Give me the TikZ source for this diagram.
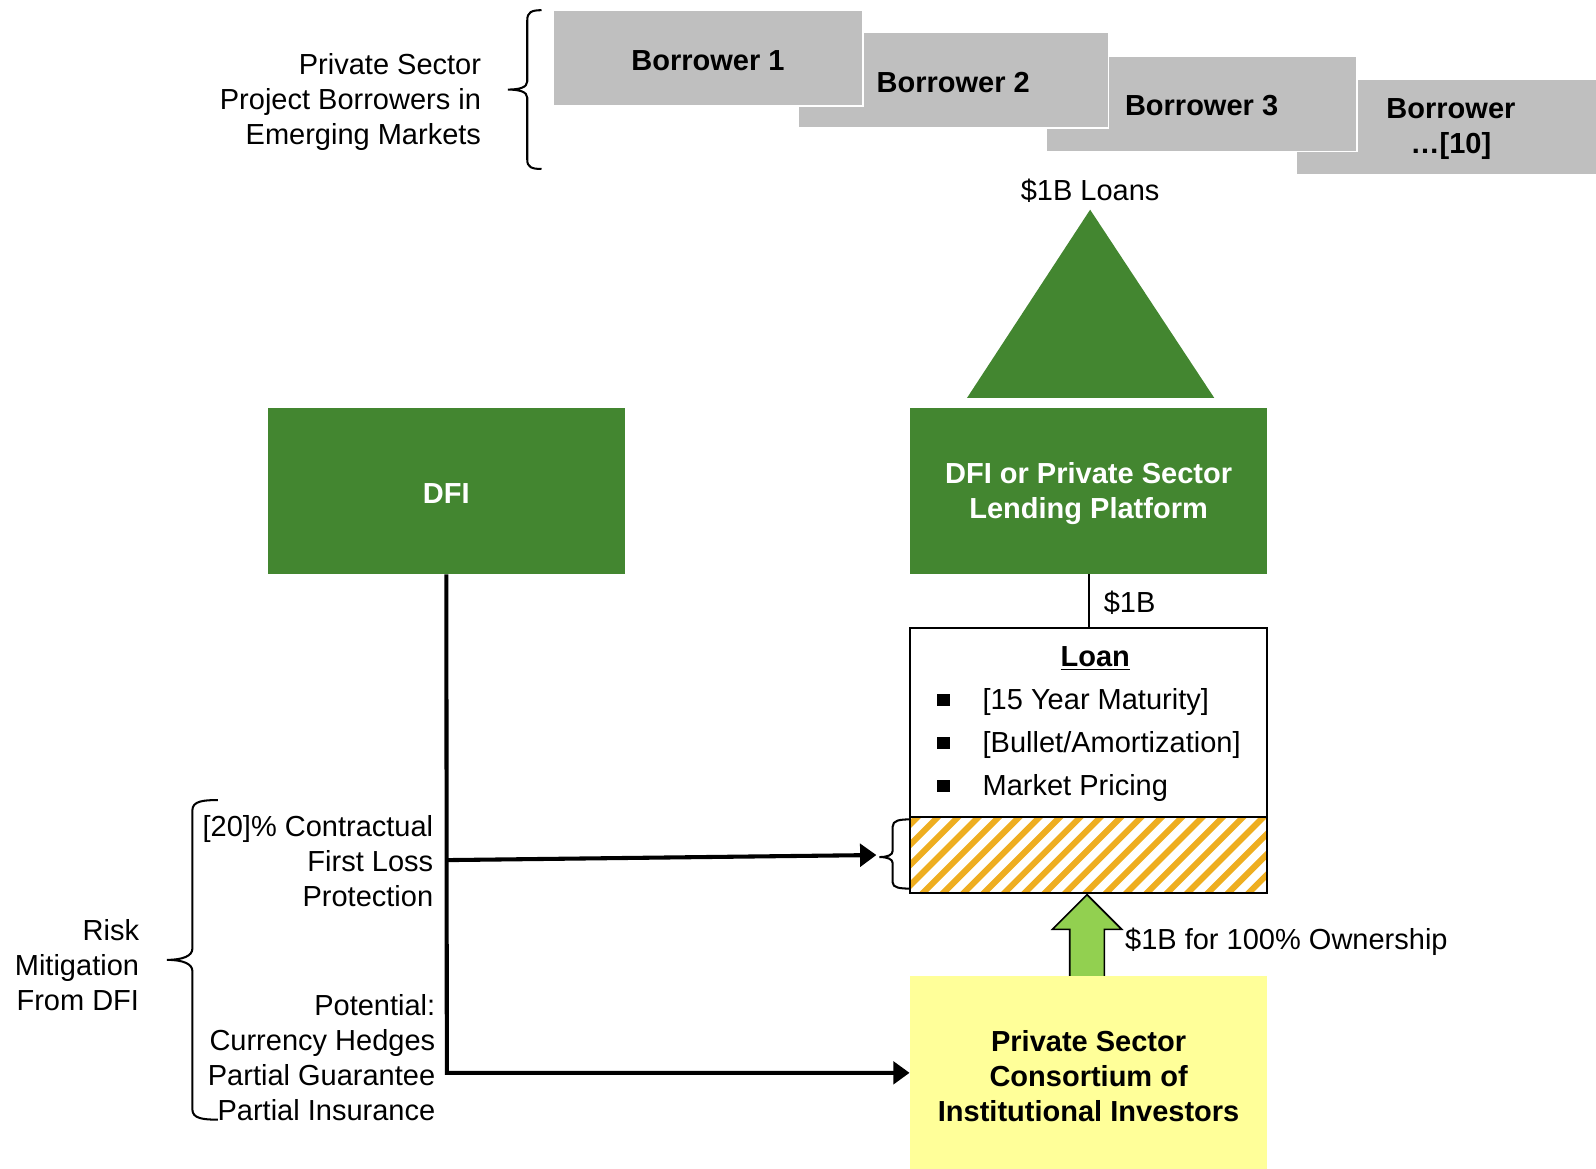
\documentclass[tikz,border=0pt]{standalone}
\usepackage{fontspec}
\setmainfont{Liberation Sans}
\usetikzlibrary{arrows.meta}
\definecolor{dgreen}{RGB}{67,134,48}
\definecolor{lgreen}{RGB}{146,208,80}
\definecolor{bgray}{RGB}{191,191,191}
\definecolor{yel}{RGB}{255,255,153}
\definecolor{hatchc}{RGB}{238,174,32}
\begin{document}
\begin{tikzpicture}[x=0.5pt,y=-0.5pt,
  every node/.style={font=\fontsize{14.25}{17.25}\selectfont, inner sep=0pt},
  tx/.style={yshift=-1pt},
  bf/.style={font=\fontsize{14.25}{17.25}\selectfont\bfseries, align=center},
  lbl/.style={tx, align=right, anchor=east},
  borrower/.style={fill=bgray, draw=white, line width=0.8pt, minimum width=152.5pt, minimum height=47pt},
  gbox/.style={fill=dgreen, minimum width=175.5pt, minimum height=81.5pt},
  bracel/.style={line width=1pt},
  conn/.style={line width=2pt, line join=miter},
  tipa/.style={-{Triangle[length=8pt,width=11pt]}},
  sq/.style={fill=black, minimum size=6pt},
  item/.style={tx, anchor=west},
]
\useasboundingbox (0,0) rectangle (1568,1148);

% top label and brace
\node[lbl] (psl) at (473,98.5) {Private Sector\\Project Borrowers in\\Emerging Markets};
\draw[bracel] (532,10) .. controls (522,10) and (518,12) .. (518,20) -- (518,80) .. controls (518,86) and (510,88) .. (499,88) .. controls (510,88) and (518,90) .. (518,96) -- (518,157) .. controls (518,164) and (522,166) .. (532,166);

% borrowers
\node[borrower] (b4) at (1425.5,125) {};
\node[tx, bf] (b4t) at (b4) {Borrower\\{\dots}[10]};
\node[borrower] (b3) at (1180.5,102) {};
\node[tx, bf] (b3t) at (b3) {Borrower 3};
\node[borrower] (b2) at (936.5,79) {};
\node[tx, bf] (b2t) at (b2) {Borrower 2};
\node[borrower] (b1) at (695.5,57) {};
\node[tx, bf] (b1t) at ([yshift=-0.5pt]b1) {Borrower 1};

\node (loans) at (1071,187) {\$1B Loans};
\fill[dgreen] (1071,206) -- (1193,391) -- (950,391) -- cycle;

% green boxes
\node[gbox] (dfi) at (438.5,482.5) {};
\node[tx, bf, text=white] (dfit) at (dfi) {DFI};
\node[gbox] (lend) at (1069.5,482.5) {};
\node[tx, bf, text=white] (lendt) at (lend) {DFI or Private Sector\\Lending Platform};

% loan box
\begin{scope}
\clip (894,803) rectangle (1245,877);
\foreach \i in {0,...,25} {
  \draw[hatchc, line width=3pt] (794+\i*20,890) -- ++(100,-100);
}
\end{scope}
\node[draw, line width=1.1pt, minimum width=175.5pt, minimum height=130pt] (loan) at (1069.5,747) {};
\draw[line width=1.1pt] (loan.west |- 0,803) -- (loan.east |- 0,803);
\node[tx] (loant) at (1076,645) {\bfseries\underline{Loan}};
\node[sq] (s1) at (927,688) {};
\node[sq] (s2) at (927,730) {};
\node[sq] (s3) at (927,772) {};
\node[item] (i1) at (965,688) {[15 Year Maturity]};
\node[item] (i2) at (965,730) {[Bullet/Amortization]};
\node[item] (i3) at (965,772) {Market Pricing};

\draw[line width=0.9pt] (lend.south) -- (loan.north);
\node[anchor=west] (l1b) at (1084,592) {\$1B};

% investors
\draw[fill=lgreen, line width=0.8pt] (1051,962) -- (1051,913) -- (1034,913) -- (1068,879) -- (1102,913) -- (1085,913) -- (1085,962);
\node[fill=yel, minimum width=175.5pt, minimum height=94.5pt] (inv) at (1069.5,1053.5) {};
\node[tx, bf] (invt) at (1069.5,1055) {Private Sector\\Consortium of\\Institutional Investors};
\node[tx, anchor=west] (own) at (1105,923) {\$1B for 100\% Ownership};

% small brace
\draw[bracel] (894,805) .. controls (884,805) and (877,806) .. (877,812) -- (877,836) .. controls (877,840) and (872,842) .. (864,842) .. controls (872,842) and (877,844) .. (877,848) -- (877,867) .. controls (877,872) and (884,873) .. (894,873);

% DFI connectors
\coordinate (j1) at (439,845);
\coordinate (j2) at (439,1054);
\coordinate (a1) at (861,840);
\draw[conn, tipa] (dfi.south) -- (j2) -- (inv.west |- j2);
\draw[conn, tipa] (j1) -- (a1);

% left labels
\node[lbl] (fl) at (426,844) {[20]\% Contractual\\First Loss\\Protection};
\node[lbl] (pot) at (428,1037) {Potential:\\Currency Hedges\\Partial Guarantee\\Partial Insurance};
\node[lbl] (risk) at (137,946.5) {Risk\\Mitigation\\From DFI};
\draw[bracel] (214,786) .. controls (200,786) and (189,787) .. (189,796) -- (189,932) .. controls (189,939) and (180,943) .. (164,943) .. controls (180,943) and (189,947) .. (189,954) -- (189,1090) .. controls (189,1099) and (200,1100) .. (214,1100);
\end{tikzpicture}
\end{document}
